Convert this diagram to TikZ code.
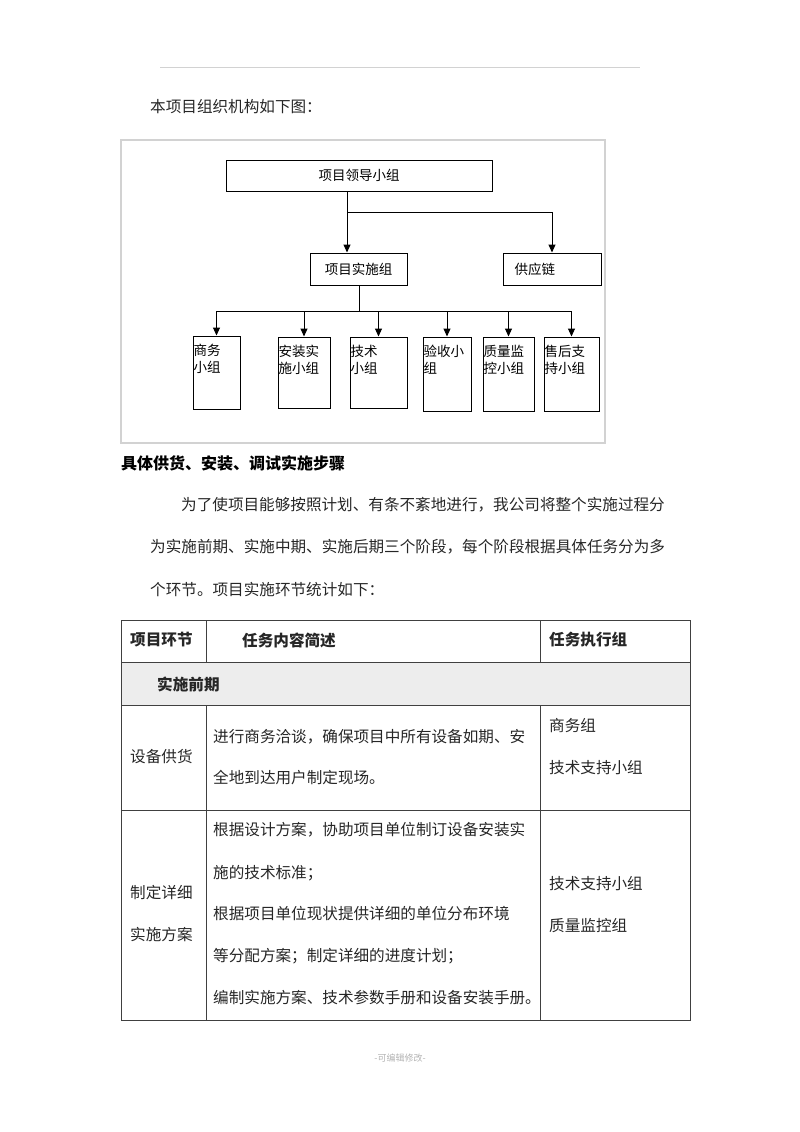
\documentclass[tikz,border=0pt]{standalone}
\usepackage{fontspec}
\setmainfont{Noto Sans CJK SC}
\usepackage{xcolor}
\usetikzlibrary{arrows.meta}

\tikzset{
  orgbox/.style={draw, line width=1pt, inner sep=0pt, font=\fontsize{13.5}{17}\selectfont},
  grpbox/.style={draw, line width=1pt, inner sep=0pt},
  grplbl/.style={anchor=north west, align=left, inner sep=1pt, yshift=-7pt, font=\fontsize{13.5}{17}\selectfont},
  arr/.style={-{Triangle[length=8pt,width=7pt]}, line width=1pt},
  txt/.style={anchor=west, inner sep=0pt, text=black!85, font=\fontsize{15.6}{18}\selectfont},
  rule/.style={line width=0.8pt, black!75}
}

\begin{document}
\begin{tikzpicture}[x=1pt,y=-1pt]
\useasboundingbox (0,0) rectangle (800,1132);
\draw[gray!35, line width=0.8pt] (160,67) -- (640,67);
\node[txt] (intro) at (150,107) {本项目组织机构如下图：};

\draw[gray!35, line width=1.5pt] (121,140) rectangle (605,443);
\node[orgbox, minimum width=266pt, minimum height=31pt] (lead) at (359,175.5) {项目领导小组};
\node[orgbox, minimum width=97pt, minimum height=32pt] (impl) at (358.5,269) {项目实施组};
\node[orgbox, minimum width=98pt, minimum height=32pt,
      label={[anchor=west, xshift=12pt, inner sep=0pt, font=\fontsize{13.5}{17}\selectfont]west:供应链}] (supply) at (552,269) {};
\coordinate (split) at (347,212);
\coordinate (fork) at (359,311);
\node[grpbox, minimum width=47pt, minimum height=73pt, label={[grplbl]north west:商务\\小组}] (biz) at (216.5,372.5) {};
\node[grpbox, minimum width=52pt, minimum height=71pt, label={[grplbl]north west:安装实\\施小组}] (install) at (304,372.5) {};
\node[grpbox, minimum width=57pt, minimum height=71pt, label={[grplbl]north west:技术\\小组}] (tech) at (378.5,372.5) {};
\node[grpbox, minimum width=48pt, minimum height=74pt, label={[grplbl]north west:验收小\\组}] (accept) at (447,374) {};
\node[grpbox, minimum width=51pt, minimum height=74pt, label={[grplbl]north west:质量监\\控小组}] (quality) at (508.5,374) {};
\node[grpbox, minimum width=55pt, minimum height=74pt, label={[grplbl]north west:售后支\\持小组}] (service) at (571.5,374) {};

\draw[arr] (lead.south -| split) -- (impl.north -| split);
\draw[arr] (split) -| (supply.north);
\draw[line width=1pt] (impl.south -| fork) -- (fork);
\draw[arr] (fork) -| (biz.north);
\draw[arr] (fork) -| (install.north);
\draw[arr] (fork) -| (tech.north);
\draw[arr] (fork) -| (accept.north);
\draw[arr] (fork) -| (quality.north);
\draw[arr] (fork) -| (service.north);

\node[txt, text=black, font=\fontsize{16}{18}\selectfont\bfseries] (heading) at (121,463) {具体供货、安装、调试实施步骤};
\node[txt] (para1) at (181,505) {为了使项目能够按照计划、有条不紊地进行，我公司将整个实施过程分};
\node[txt] (para2) at (150,547) {为实施前期、实施中期、实施后期三个阶段，每个阶段根据具体任务分为多};
\node[txt] (para3) at (150,590) {个环节。项目实施环节统计如下：};

\fill[gray!14] (121,662) rectangle (690,705);
\draw[rule] (121,620) rectangle (690,1020);
\draw[rule] (121,662) -- (690,662);
\draw[rule] (121,705) -- (690,705);
\draw[rule] (121,810) -- (690,810);
\draw[rule] (206,620) -- (206,662);
\draw[rule] (540,620) -- (540,662);
\draw[rule] (206,705) -- (206,1020);
\draw[rule] (540,705) -- (540,1020);

\node[txt, font=\fontsize{15.6}{18}\selectfont\bfseries] (hstep) at (130,640) {项目环节};
\node[txt, font=\fontsize{15.6}{18}\selectfont\bfseries] (htask) at (242,640) {任务内容简述};
\node[txt, font=\fontsize{15.6}{18}\selectfont\bfseries] (hgroup) at (549,640) {任务执行组};
\node[txt, font=\fontsize{15.6}{18}\selectfont\bfseries] (phase) at (157,684) {实施前期};

\node[txt] (step1) at (130,757) {设备供货};
\node[txt] (task1a) at (213,737) {进行商务洽谈，确保项目中所有设备如期、安};
\node[txt] (task1b) at (213,778) {全地到达用户制定现场。};
\node[txt] (grp1a) at (549,726) {商务组};
\node[txt] (grp1b) at (549,768) {技术支持小组};

\node[txt] (step2a) at (130,893) {制定详细};
\node[txt] (step2b) at (130,935) {实施方案};
\node[txt] (task2a) at (213,830) {根据设计方案，协助项目单位制订设备安装实};
\node[txt] (task2b) at (213,873) {施的技术标准；};
\node[txt] (task2c) at (213,914) {根据项目单位现状提供详细的单位分布环境};
\node[txt] (task2d) at (213,956) {等分配方案；制定详细的进度计划；};
\node[txt] (task2e) at (213,998) {编制实施方案、技术参数手册和设备安装手册。};
\node[txt] (grp2a) at (549,884) {技术支持小组};
\node[txt] (grp2b) at (549,926) {质量监控组};

\node[inner sep=0pt, text=gray!60, font=\fontsize{9}{10}\selectfont] (footer) at (400,1058) {-可编辑修改-};
\end{tikzpicture}
\end{document}
